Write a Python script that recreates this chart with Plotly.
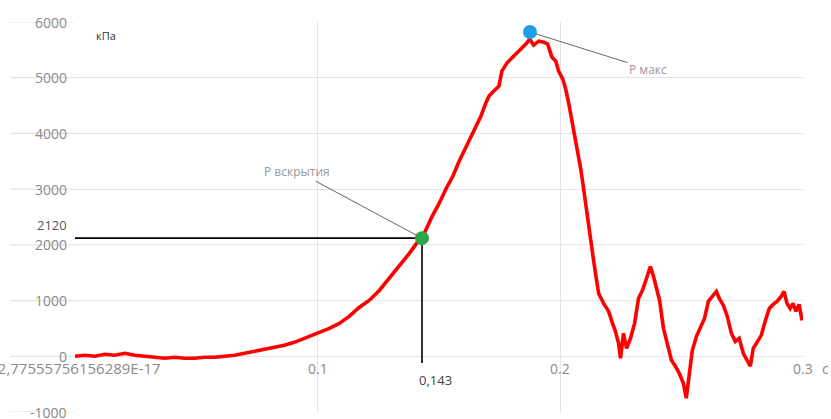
import plotly.graph_objects as go

# Pressure trace: time (s) and pressure (kPa)
time_s = [
    0.0000, 0.0041, 0.0082, 0.0123, 0.0164, 0.0206, 0.0247, 0.0288, 0.0329, 0.0370,
    0.0411, 0.0452, 0.0493, 0.0534, 0.0575, 0.0617, 0.0658, 0.0699, 0.0740, 0.0781,
    0.0822, 0.0863, 0.0904, 0.0945, 0.0999, 0.1048, 0.1089, 0.1130, 0.1171, 0.1212,
    0.1254, 0.1295, 0.1336, 0.1377, 0.1410, 0.1430, 0.1471, 0.1500, 0.1529, 0.1558,
    0.1582, 0.1607, 0.1632, 0.1652, 0.1673, 0.1693, 0.1706, 0.1726, 0.1747, 0.1759,
    0.1780, 0.1796, 0.1817, 0.1837, 0.1858, 0.1874, 0.1890, 0.1911, 0.1932, 0.1948,
    0.1965, 0.1981, 0.1993, 0.2010, 0.2022, 0.2035, 0.2047, 0.2059, 0.2071, 0.2084,
    0.2096, 0.2108, 0.2121, 0.2133, 0.2145, 0.2158, 0.2178, 0.2199, 0.2215, 0.2227,
    0.2240, 0.2248, 0.2260, 0.2273, 0.2289, 0.2306, 0.2322, 0.2338, 0.2351, 0.2363,
    0.2371, 0.2384, 0.2396, 0.2409, 0.2425, 0.2441, 0.2458, 0.2474, 0.2490, 0.2507,
    0.2519, 0.2532, 0.2544, 0.2561, 0.2577, 0.2594, 0.2610, 0.2626, 0.2643, 0.2655,
    0.2672, 0.2688, 0.2705, 0.2721, 0.2737, 0.2754, 0.2770, 0.2783, 0.2795, 0.2811,
    0.2828, 0.2844, 0.2861, 0.2877, 0.2893, 0.2910, 0.2922, 0.2934, 0.2947, 0.2959,
    0.2971, 0.2984, 0.2996,
]
pressure_kpa = [
    0, 18, 0, 36, 18, 54, 18, 0, -18, -36,
    -18, -36, -36, -18, -18, 0, 18, 54, 90, 125,
    161, 197, 251, 322, 412, 501, 591, 716, 877, 1002,
    1181, 1396, 1611, 1844, 2041, 2120, 2506, 2739, 3007, 3240,
    3490, 3723, 3938, 4135, 4314, 4547, 4672, 4761, 4851, 5119,
    5263, 5334, 5424, 5513, 5603, 5692, 5585, 5656, 5638, 5603,
    5370, 5298, 5119, 4976, 4797, 4529, 4260, 3992, 3723, 3365,
    3007, 2596, 2202, 1844, 1486, 1128, 949, 806, 591, 448,
    233, -36, 412, 143, 322, 591, 1038, 1181, 1343, 1486,
    1611, 1432, 1217, 1002, 501, 233, -72, -179, -304, -483,
    -752, -304, 107, 358, 501, 680, 985, 1074, 1163, 1038,
    913, 716, 412, 268, 322, 54, -72, -179, 143, 268,
    376, 627, 859, 931, 985, 1074, 1163, 949, 859, 949,
    806, 931, 644,
]

# Marked points
opening_t, opening_p = 0.143, 2120
max_t, max_p = 0.1875, 5820

y_ticks = [-1000, 0, 1000, 2000, 3000, 4000, 5000, 6000]
x_ticks = [0.1, 0.2, 0.3]
x_tick_text = ["0.1", "0.2", "0.3"]
x_zero_text = "-2,77555756156289E-17"

GRID = "#e3e3e3"
TICK_GRAY = "#8a8a8a"
LABEL_GRAY = "#9a9a9a"
FONT = "Open Sans"

fig = go.Figure()

# guide lines to the opening point
fig.add_trace(go.Scatter(
    x=[0, opening_t, opening_t], y=[opening_p, opening_p, -120],
    mode="lines", line=dict(color="black", width=1.6),
    hoverinfo="skip", showlegend=False,
))

fig.add_trace(go.Scatter(
    x=time_s, y=pressure_kpa, mode="lines",
    line=dict(color="#ff0000", width=3.6),
    showlegend=False,
))

fig.add_trace(go.Scatter(
    x=[opening_t], y=[opening_p], mode="markers",
    marker=dict(color="#2ca64c", size=14), showlegend=False,
))
fig.add_trace(go.Scatter(
    x=[max_t], y=[max_p], mode="markers",
    marker=dict(color="#1e9fe3", size=14), showlegend=False,
))

shapes = []
# horizontal grid lines carried under the y tick labels
for v in y_ticks:
    shapes.append(dict(
        type="line", xref="paper", yref="y", x0=-0.089, x1=0, y0=v, y1=v,
        line=dict(color=GRID, width=1.2), layer="below",
    ))

annotations = []
for v in y_ticks:
    annotations.append(dict(
        x=0, y=v, xref="paper", yref="y", text=str(v), showarrow=False,
        xanchor="right", xshift=-6,
        font=dict(family=FONT, size=14, color=TICK_GRAY),
    ))
for xv, txt in zip(x_ticks, x_tick_text):
    annotations.append(dict(
        x=xv, y=0, xref="x", yref="y", text=txt, showarrow=False,
        yshift=-12, font=dict(family=FONT, size=14, color=TICK_GRAY),
    ))
annotations.append(dict(
    x=0, y=0, xref="x", yref="y", text=x_zero_text, showarrow=False,
    xanchor="right", xshift=88, yshift=-12,
    font=dict(family=FONT, size=15, color=TICK_GRAY),
))
annotations.append(dict(
    x=0.3, y=0, xref="x", yref="y", text="c", showarrow=False,
    xanchor="left", xshift=17, yshift=-12,
    font=dict(family=FONT, size=14, color=TICK_GRAY),
))
annotations.append(dict(
    x=opening_t, y=0, xref="x", yref="y", text="0,143", showarrow=False,
    xanchor="left", xshift=-5, yshift=-24,
    font=dict(family=FONT, size=13, color="#444444"),
))
annotations.append(dict(
    x=0, y=opening_p, xref="paper", yref="y", text="2120", showarrow=False,
    xanchor="right", xshift=-6, yshift=13,
    font=dict(family=FONT, size=13, color="#555555"),
))
annotations.append(dict(
    x=0.008, y=5760, xref="x", yref="y", text="кПа", showarrow=False,
    xanchor="left",
    font=dict(family=FONT, size=11, color="#333333"),
))
annotations.append(dict(
    x=opening_t, y=opening_p, xref="x", yref="y", text="Р вскрытия",
    showarrow=True, arrowhead=0, arrowwidth=1, arrowcolor="#666666",
    ax=-125, ay=-67, standoff=6, xanchor="center",
    font=dict(family=FONT, size=12, color=LABEL_GRAY),
))
annotations.append(dict(
    x=max_t, y=max_p, xref="x", yref="y", text="Р макс",
    showarrow=True, arrowhead=0, arrowwidth=1, arrowcolor="#666666",
    ax=118, ay=37, standoff=6,
    font=dict(family=FONT, size=12, color=LABEL_GRAY),
))

fig.update_layout(
    width=831, height=419,
    margin=dict(l=75, r=28, t=22, b=7),
    paper_bgcolor="white", plot_bgcolor="white",
    shapes=shapes, annotations=annotations,
    xaxis=dict(
        range=[0, 0.3], tickvals=[0] + x_ticks, showticklabels=False,
        showgrid=True, gridcolor=GRID, gridwidth=1.2, zeroline=False,
        showline=False, ticks="",
    ),
    yaxis=dict(
        range=[-1000, 6000], tickvals=y_ticks, showgrid=True,
        gridcolor=GRID, gridwidth=1.2, zeroline=True, zerolinecolor=GRID,
        zerolinewidth=1.2, ticks="", showticklabels=False,
    ),
    font=dict(family=FONT),
)

fig.write_html("out.html")
